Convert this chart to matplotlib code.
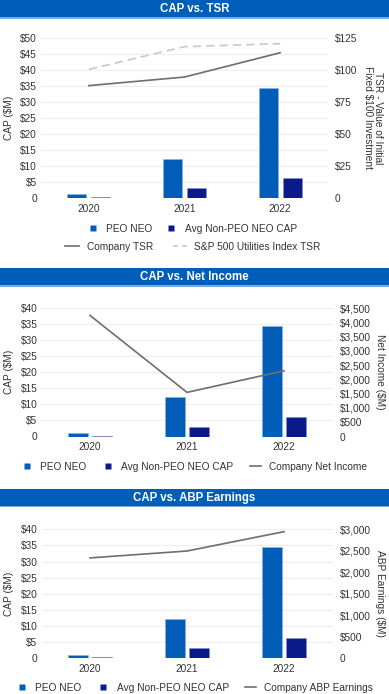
import numpy as np
import matplotlib.pyplot as plt
from matplotlib.patches import Rectangle
from matplotlib.lines import Line2D
from matplotlib.ticker import FuncFormatter

plt.rcParams['font.family'] = ['Liberation Sans', 'DejaVu Sans']

years = ["2020", "2021", "2022"]
peo_cap = [1.1, 12.2, 34.4]
avg_cap = [0.3, 3.1, 6.2]
company_tsr = [87.8, 94.5, 113.5]
sp_util_tsr = [100.5, 118.2, 120.6]
net_income = [4240, 1545, 2300]
abp_earnings = [2335, 2495, 2945]

BLUE = "#005EB8"
NAVY = "#0B1A8A"
LINE = "#6E6E6E"
DASH = "#C8C8C8"
GRID = "#EDEDED"
TXT = "#333333"
FS = 7.3
W, H = 389, 694

fig = plt.figure(figsize=(W / 100, H / 100), dpi=100)


def px_axes(x0, y_top, width, y_bot):
    return fig.add_axes([x0 / W, 1 - y_bot / H, width / W, (y_bot - y_top) / H])


def header(y0, y1, text):
    fig.patches.append(Rectangle((0, 1 - y1 / H), 1, (y1 - y0) / H, transform=fig.transFigure,
                                 facecolor="#005EBB", edgecolor="none", zorder=0))
    fig.patches.append(Rectangle((0, 1 - y1 / H), 1, 1.2 / H, transform=fig.transFigure,
                                 facecolor="#7FA8DC", edgecolor="none", zorder=1))
    fig.text(0.5, 1 - (y0 + y1) / 2 / H, text, color="white", fontsize=8.3, fontweight="bold",
             ha="center", va="center")


def money(v, pos=None):
    if v == 0:
        return "0"
    return "${:,.0f}".format(v)


def panel(ax, ymax, ystep, rmax, rstep):
    x = np.arange(len(years))
    ax.bar(x - 0.125, peo_cap, width=0.2, color=BLUE, edgecolor="#8FB3E0", linewidth=0.4, zorder=3)
    ax.bar(x + 0.125, avg_cap, width=0.2, color=NAVY, edgecolor="#8090D0", linewidth=0.4, zorder=3)
    ax.set_xlim(-0.5, 2.5)
    ax.set_ylim(0, ymax)
    ax.set_yticks(np.arange(0, ymax + 0.1, ystep))
    ax.yaxis.set_major_formatter(FuncFormatter(money))
    ax.set_xticks(x)
    ax.set_xticklabels(years)
    ax.grid(axis="y", color=GRID, linewidth=0.8, zorder=0)
    ax.tick_params(length=0, labelsize=FS, colors=TXT)
    ax.tick_params(axis="y", pad=3)
    ax.tick_params(axis="x", pad=4)
    for s in ax.spines.values():
        s.set_visible(False)
    ax.set_axisbelow(True)
    ax2 = ax.twinx()
    ax2.set_ylim(0, rmax)
    ax2.set_yticks(np.arange(0, rmax + 1, rstep))
    ax2.yaxis.set_major_formatter(FuncFormatter(money))
    ax2.tick_params(length=0, labelsize=FS, colors=TXT, pad=5)
    for s in ax2.spines.values():
        s.set_visible(False)
    ax.text(-0.112, 0.5, "CAP ($M)", transform=ax.transAxes, rotation=90, fontsize=FS,
            color=TXT, ha="center", va="center")
    return ax2


def sq(c):
    return Line2D([], [], color="none", marker="s", markersize=5, markerfacecolor=c,
                  markeredgecolor="none")


leg_kw = dict(frameon=False, fontsize=FS, handlelength=1.1, handletextpad=0.75,
              borderaxespad=0, borderpad=0, labelcolor=TXT)

# Panel 1: CAP vs. TSR
header(0, 18.5, "CAP vs. TSR")
ax1 = px_axes(41, 38, 287, 198)
r1 = panel(ax1, 50, 5, 125, 25)
xs = np.arange(len(years))
r1.plot(xs, company_tsr, color=LINE, linewidth=1.2, zorder=4)
r1.plot(xs, sp_util_tsr, color=DASH, linewidth=1.2, linestyle=(0, (5, 3)), zorder=4)
fig.text(373 / W, 1 - 118 / H, "TSR - Value of Initial\nFixed $100 Investment", rotation=270,
         fontsize=FS, color=TXT, ha="center", va="center", linespacing=1.05)
fig.legend([sq(BLUE), sq(NAVY)], ["PEO NEO", "Avg Non-PEO NEO CAP"], ncol=2,
           loc="center", bbox_to_anchor=(192 / W, 1 - 229 / H), columnspacing=1.3,
           **{**leg_kw, "handletextpad": 0.8})
fig.legend([Line2D([], [], color=LINE, lw=1.2), Line2D([], [], color=DASH, lw=1.2, ls=(0, (3, 2.5)))],
           ["Company TSR", "S&P 500 Utilities Index TSR"], ncol=2, loc="center",
           bbox_to_anchor=(193 / W, 1 - 247 / H), columnspacing=2.0,
           **{**leg_kw, "handlelength": 1.35, "handletextpad": 0.75})

# Panel 2: CAP vs. Net Income
header(268.3, 286.7, "CAP vs. Net Income")
ax2 = px_axes(41.5, 308, 291, 436.5)
r2 = panel(ax2, 40, 5, 4500, 500)
r2.plot(xs, net_income, color=LINE, linewidth=1.2, zorder=4)
fig.text(380 / W, 1 - 372 / H, "Net Income ($M)", rotation=270, fontsize=FS, color=TXT,
         ha="center", va="center")
fig.legend([sq(BLUE), sq(NAVY), Line2D([], [], color=LINE, lw=1.2)],
           ["PEO NEO", "Avg Non-PEO NEO CAP", "Company Net Income"], ncol=3, loc="center",
           bbox_to_anchor=(194 / W, 1 - 467 / H), columnspacing=1.6, **leg_kw)

# Panel 3: CAP vs. ABP Earnings
header(489, 507.3, "CAP vs. ABP Earnings")
ax3 = px_axes(41.5, 529.3, 291, 658.3)
r3 = panel(ax3, 40, 5, 3000, 500)
r3.plot(xs, abp_earnings, color=LINE, linewidth=1.2, zorder=4)
fig.text(380 / W, 1 - 593 / H, "ABP Earnings ($M)", rotation=270, fontsize=FS, color=TXT,
         ha="center", va="center")
fig.legend([sq(BLUE), sq(NAVY), Line2D([], [], color=LINE, lw=1.2)],
           ["PEO NEO", "Avg Non-PEO NEO CAP", "Company ABP Earnings"], ncol=3, loc="center",
           bbox_to_anchor=(194.5 / W, 1 - 688 / H), columnspacing=1.6, **leg_kw)

fig.savefig("out.png", dpi=100)
